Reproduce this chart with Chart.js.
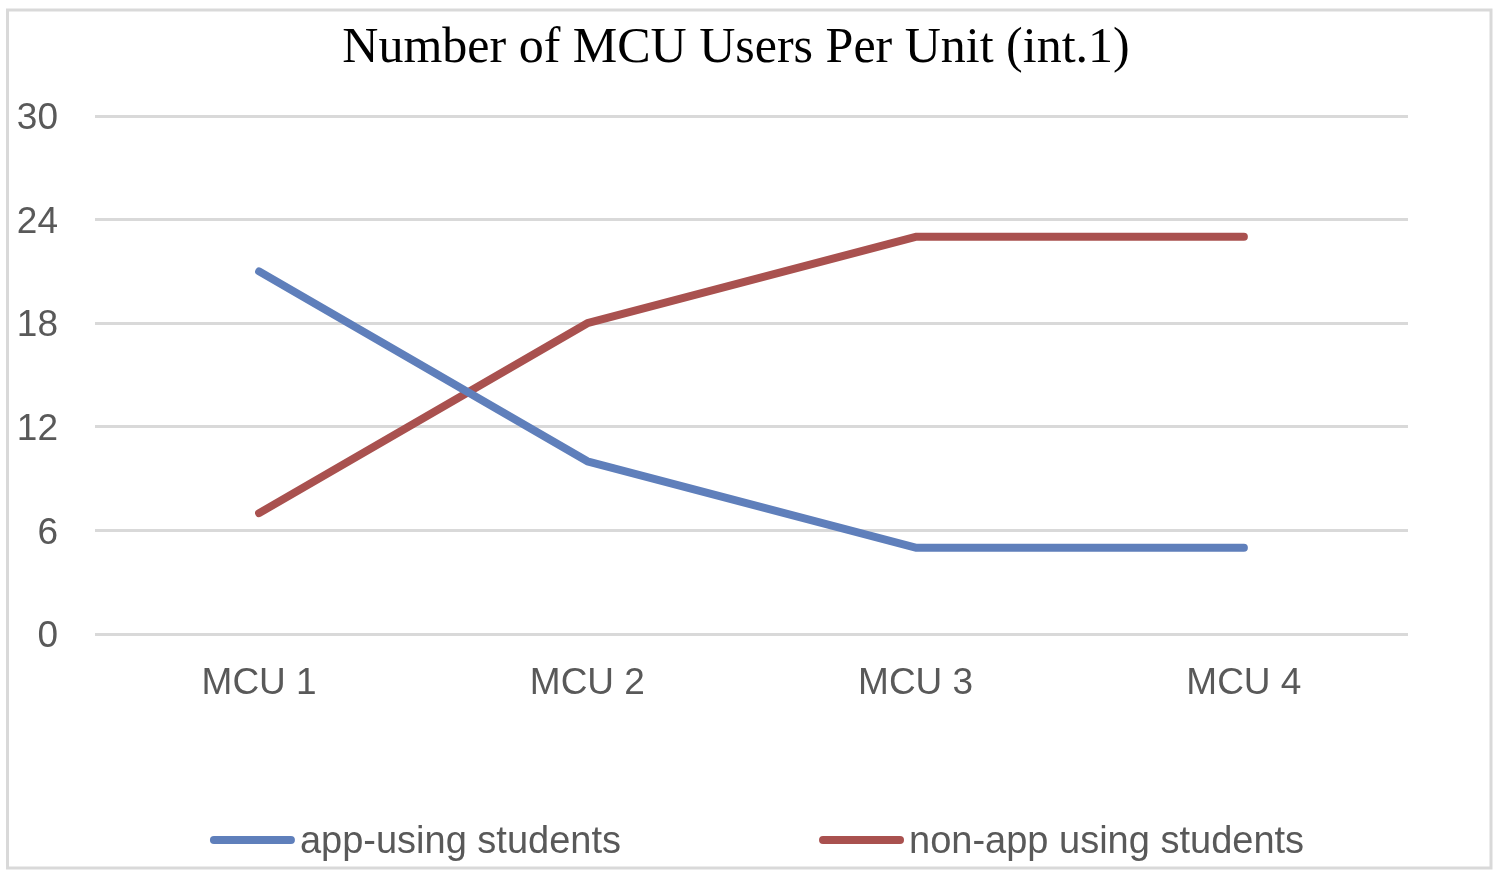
<!DOCTYPE html>
<html>
<head>
<meta charset="utf-8">
<style>
  html, body { margin: 0; padding: 0; background: #ffffff; }
  #wrap { position: relative; width: 1500px; height: 879px; }
  canvas { display: block; }
</style>
<script src="https://cdn.jsdelivr.net/npm/chart.js@4/dist/chart.umd.min.js"></script>
</head>
<body>
<div id="wrap"><canvas id="c" width="1500" height="879"></canvas></div>
<script>
const categories = ["MCU 1", "MCU 2", "MCU 3", "MCU 4"];
const appUsing = [21, 10, 5, 5];
const nonAppUsing = [7, 18, 23, 23];
const seriesLabels = ["app-using students", "non-app using students"];
const yTicks = [0, 6, 12, 18, 24, 30];
const chartTitle = "Number of MCU Users Per Unit (int.1)";

const BLUE = "#5f7fbb";
const RED = "#a9514f";
const GRID = "#d9d9d9";
const TEXT = "#595959";
const SANS = "'Liberation Sans', Arial, Helvetica, sans-serif";

const framePlugin = {
  id: "frame",
  beforeDraw(chart) {
    const ctx = chart.ctx;
    ctx.save();
    ctx.fillStyle = "#ffffff";
    ctx.fillRect(0, 0, chart.width, chart.height);
    ctx.strokeStyle = GRID;
    ctx.lineWidth = 3;
    ctx.strokeRect(7.5, 10, 1483.5, 858);
    ctx.restore();
  }
};

const bottomLegend = {
  id: "bottomLegend",
  afterDraw(chart) {
    const ctx = chart.ctx;
    const font = "38px " + SANS;
    const swatch = 85, gapText = 5, gapItem = 198, cy = 840, textDy = 3, centerX = 757;
    ctx.save();
    ctx.font = font;
    const items = chart.data.datasets.map(ds => ({
      label: ds.label, color: ds.borderColor, lw: ds.borderWidth,
      w: ctx.measureText(ds.label).width
    }));
    let total = 0;
    items.forEach((it, i) => { total += swatch + gapText + it.w + (i > 0 ? gapItem : 0); });
    let x = centerX - total / 2;
    items.forEach((it, i) => {
      if (i > 0) x += gapItem;
      ctx.strokeStyle = it.color;
      ctx.lineWidth = it.lw;
      ctx.lineCap = "round";
      ctx.beginPath();
      ctx.moveTo(x + it.lw / 2, cy);
      ctx.lineTo(x + swatch - it.lw / 2, cy);
      ctx.stroke();
      x += swatch + gapText;
      ctx.fillStyle = TEXT;
      ctx.textAlign = "left";
      ctx.textBaseline = "middle";
      ctx.fillText(it.label, x, cy + textDy);
      x += it.w;
    });
    ctx.restore();
  }
};

new Chart(document.getElementById("c"), {
  type: "line",
  data: {
    labels: categories,
    datasets: [
      { label: seriesLabels[0], data: appUsing, borderColor: BLUE, backgroundColor: BLUE,
        borderWidth: 8, pointRadius: 0, pointHoverRadius: 0, tension: 0, yAxisID: "y",
        borderCapStyle: "round", borderJoinStyle: "round", fill: false },
      { label: seriesLabels[1], data: nonAppUsing, borderColor: RED, backgroundColor: RED,
        borderWidth: 8, pointRadius: 0, pointHoverRadius: 0, tension: 0, yAxisID: "y",
        borderCapStyle: "round", borderJoinStyle: "round", fill: false }
    ]
  },
  options: {
    responsive: false,
    animation: false,
    devicePixelRatio: 1,
    layout: { padding: { left: 0, right: 28, top: 0, bottom: 175 } },
    plugins: {
      legend: { display: false },
      tooltip: { enabled: false },
      title: {
        display: true,
        text: chartTitle,
        color: "#000000",
        font: { family: "'Liberation Serif', 'Times New Roman', Times, serif", size: 50, weight: "normal", lineHeight: 1.2 },
        padding: { top: 19, bottom: 37 }
      }
    },
    scales: {
      x: {
        offset: true,
        grid: { display: false, drawTicks: false },
        border: { display: false },
        ticks: { color: TEXT, font: { family: SANS, size: 37 }, padding: 28, maxRotation: 0 },
        afterFit(scale) { scale.height = 70; }
      },
      y: {
        position: "left",
        min: yTicks[0],
        max: yTicks[yTicks.length - 1],
        afterBuildTicks(scale) { scale.ticks = yTicks.map(v => ({ value: v })); },
        grid: { color: GRID, lineWidth: 3, drawTicks: false },
        border: { display: false },
        ticks: { color: TEXT, font: { family: SANS, size: 37 }, padding: 37, labelOffset: 3 },
        afterFit(scale) { scale.width = 95; }
      },
      yRight: {
        position: "right",
        display: true,
        min: 0,
        max: 30,
        grid: { display: false, drawTicks: false },
        border: { display: false },
        ticks: { display: false },
        afterFit(scale) { scale.width = 64; }
      }
    }
  },
  plugins: [framePlugin, bottomLegend]
});
</script>
</body>
</html>
